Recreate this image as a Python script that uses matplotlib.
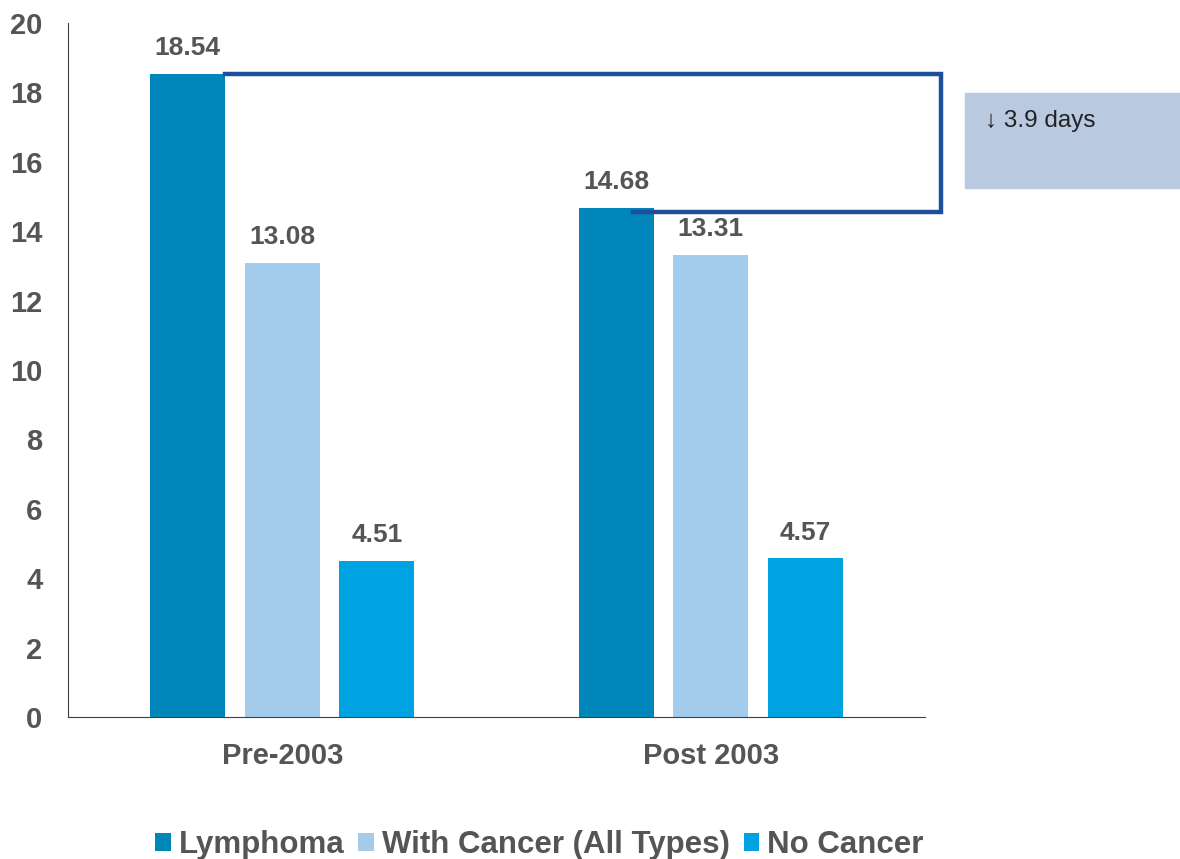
import matplotlib.pyplot as plt
import numpy as np
from matplotlib.patches import Rectangle

plt.rcParams['font.family'] = ['Liberation Sans', 'DejaVu Sans']

categories = ["Pre-2003", "Post 2003"]
series = ["Lymphoma", "With Cancer (All Types)", "No Cancer"]
lymphoma = [18.54, 14.68]
with_cancer = [13.08, 13.31]
no_cancer = [4.51, 4.57]
colors = ["#0086BB", "#A2CBEC", "#00A3E1"]
annotation = "\u2193 3.9 days"

text_grey = "#555555"

fig = plt.figure(figsize=(11.8, 8.59), dpi=100)
ax = fig.add_axes([0.0576, 0.1653, 0.7264, 0.8079])

x = np.arange(len(categories))
width = 0.175
step = 0.221
for i, (vals, name, c) in enumerate(zip([lymphoma, with_cancer, no_cancer], series, colors)):
    pos = x + (i - 1) * step
    ax.bar(pos, vals, width=width, color=c, label=name)
    for p, v in zip(pos, vals):
        ax.text(p, v + 0.4, f"{v:.2f}", ha="center", va="bottom",
                fontsize=19, fontweight="bold", color=text_grey)

ax.set_xlim(-0.5, 1.5)
ax.set_ylim(0, 20)
ax.set_yticks(np.arange(0, 21, 2))
ax.set_xticks(x)
ax.set_xticklabels(categories)
ax.tick_params(axis="both", length=0, labelsize=21, labelcolor=text_grey)
ax.tick_params(axis="y", pad=18.5)
ax.tick_params(axis="x", pad=18)
for lab in ax.get_xticklabels() + ax.get_yticklabels():
    lab.set_fontweight("bold")
ax.spines["top"].set_visible(False)
ax.spines["right"].set_visible(False)
ax.spines["left"].set_color("#404040")
ax.spines["bottom"].set_color("#404040")

# bracket between the two lymphoma bars
bx_left = x[0] - step + width / 2
bx_right = 1.536
bx_end = x[1] - step + 0.04
ax.plot([bx_left, bx_right, bx_right, bx_end],
        [lymphoma[0], lymphoma[0], 14.55, 14.55],
        color="#1F4E9C", lw=3.2, clip_on=False, solid_joinstyle="miter")

# annotation box
fig.patches.append(Rectangle((965 / 1180, 1 - 188 / 859), 215 / 1180, 95 / 859,
                             transform=fig.transFigure, color="#B9C9DF", zorder=0))
fig.text(985 / 1180, 1 - 121 / 859, annotation, fontsize=17.5, color="#222222",
         va="center", ha="left")

leg = fig.legend(loc="center", bbox_to_anchor=(0.457, 1 - 845 / 859), ncol=3,
                 frameon=False, handlelength=0.5, handleheight=0.5,
                 handletextpad=0.25, columnspacing=0.45,
                 prop={"size": 22.5, "weight": "bold"})
for t in leg.get_texts():
    t.set_color(text_grey)

fig.savefig("out.png", dpi=100)
